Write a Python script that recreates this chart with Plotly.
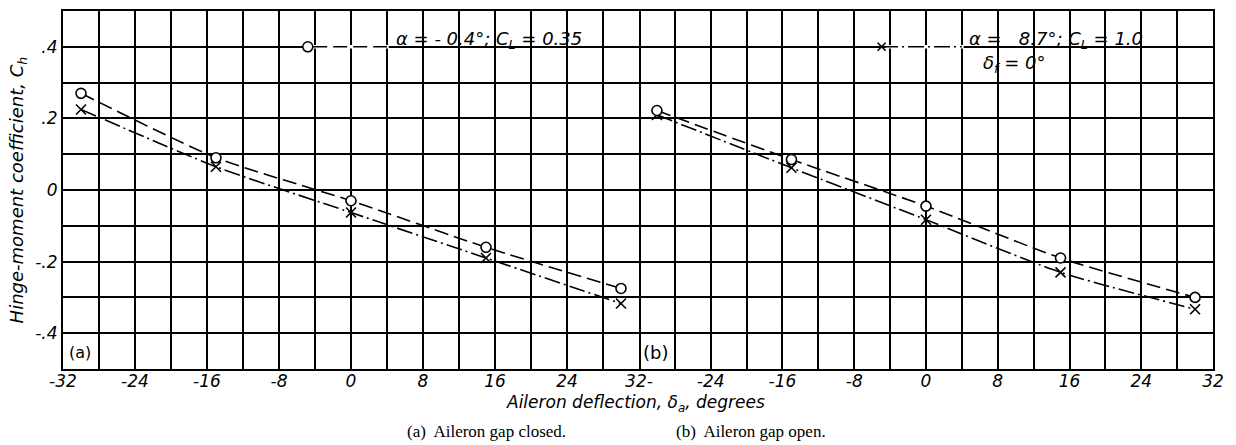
import plotly.graph_objects as go

# ---------------- data ----------------
deflection = [-30, -15, 0, 15, 30]
# (a) Aileron gap closed
a_circle = [0.27, 0.09, -0.03, -0.16, -0.275]   # alpha = -0.4 deg, CL = 0.35
a_cross = [0.225, 0.065, -0.063, -0.19, -0.317]  # alpha = 8.7 deg, CL = 1.0
# (b) Aileron gap open
b_circle = [0.222, 0.085, -0.045, -0.19, -0.30]
b_cross = [0.21, 0.062, -0.083, -0.23, -0.333]

x_tickvals_a = [-32, -24, -16, -8, 0, 8, 16, 24, 32]
x_ticktext_a = ["-32", "-24", "-16", "-8", "0", "8", "16", "24", "32-"]
x_tickvals_b = [-24, -16, -8, 0, 8, 16, 24, 32]
x_ticktext_b = ["-24", "-16", "-8", "0", "8", "16", "24", "32"]
y_tickvals = [-0.4, -0.2, 0, 0.2, 0.4]
y_ticktext = ["-.4", "-.2", "0", ".2", ".4"]

legend_a = "α = - 0.4°; C<sub>L</sub> = 0.35"
legend_b = "α =   8.7°; C<sub>L</sub> = 1.0"
legend_b2 = "δ<sub>f</sub> = 0°"
y_title = "Hinge-moment coefficient, C<sub>h</sub>"
x_title = "Aileron deflection, δ<sub>a</sub>, degrees"
caption_a = "(a)  Aileron gap closed."
caption_b = "(b)  Aileron gap open."

# ---------------- styles ----------------
ital = dict(family="DejaVu Sans", size=17, color="black", style="italic")
big_ital = dict(family="DejaVu Sans", size=18, color="black", style="italic")
DASH_C = "14px,6px"
DASH_X = "16px,4px,2px,4px"

fig = go.Figure()

def add_series(xs, ys, xa, ya, symbol, dash):
    fig.add_trace(go.Scatter(
        x=xs, y=ys, xaxis=xa, yaxis=ya, mode="lines+markers",
        line=dict(color="black", width=1.6, dash=dash, shape="spline", smoothing=0.6),
        marker=dict(symbol=symbol, size=10, color="white" if symbol == "circle" else "black",
                    line=dict(color="black", width=1.6)),
        showlegend=False, hoverinfo="x+y"))

add_series(deflection, a_cross, "x", "y", "x-thin", DASH_X)
add_series(deflection, a_circle, "x", "y", "circle", DASH_C)
add_series(deflection, b_cross, "x2", "y2", "x-thin", DASH_X)
add_series(deflection, b_circle, "x2", "y2", "circle", DASH_C)

split = 581 / 1160
grid = dict(showgrid=True, gridcolor="black", gridwidth=2)
axis_common = dict(
    zeroline=False, showline=True, linecolor="black", linewidth=2,
    ticks="", tickfont=ital, **grid,
)
fig.update_layout(
    width=1236, height=445, autosize=False,
    margin=dict(l=63, r=13, t=9, b=76),
    paper_bgcolor="white", plot_bgcolor="white",
    xaxis=dict(domain=[0, split], range=[-32, 32], tickvals=x_tickvals_a, ticktext=x_ticktext_a,
               minor=dict(dtick=4, tick0=0, **grid), anchor="y", mirror=True,
               ticklabelstandoff=-4, **axis_common),
    yaxis=dict(domain=[0, 1], range=[-0.5, 0.5], tickvals=y_tickvals, ticktext=y_ticktext,
               minor=dict(dtick=0.1, tick0=0, **grid), anchor="x", mirror=True,
               ticklabelstandoff=0, **axis_common),
    xaxis2=dict(domain=[split, 1], range=[-32, 32], tickvals=x_tickvals_b, ticktext=x_ticktext_b,
                minor=dict(dtick=4, tick0=0, **grid), anchor="y2", mirror=True,
                ticklabelstandoff=-4, **axis_common),
    yaxis2=dict(domain=[0, 1], range=[-0.5, 0.5], tickvals=y_tickvals, showticklabels=False,
                minor=dict(dtick=0.1, tick0=0, **grid), anchor="x2", side="right", mirror=False,
                **axis_common),
)

shapes = []
# legend (a): hide gridline, dashed sample line, circle key
shapes.append(dict(type="rect", xref="x", yref="y", x0=-4.8, x1=4.2, y0=0.395, y1=0.405,
                   fillcolor="white", line=dict(width=0), layer="above"))
shapes.append(dict(type="line", xref="x", yref="y", x0=-4.2, x1=4.0, y0=0.4, y1=0.4,
                   line=dict(color="black", width=1.6, dash=DASH_C), layer="above"))
shapes.append(dict(type="circle", xref="x", yref="y", xsizemode="pixel", ysizemode="pixel",
                   xanchor=-4.8, yanchor=0.4, x0=-5, x1=5, y0=-5, y1=5,
                   fillcolor="white", line=dict(color="black", width=1.6), layer="above"))
# legend (b): hide gridline, dash-dot sample line, cross key
shapes.append(dict(type="rect", xref="x2", yref="y2", x0=-4.5, x1=4.2, y0=0.395, y1=0.405,
                   fillcolor="white", line=dict(width=0), layer="above"))
shapes.append(dict(type="line", xref="x2", yref="y2", x0=-4.9, x1=4.0, y0=0.4, y1=0.4,
                   line=dict(color="black", width=1.6, dash=DASH_X), layer="above"))
for sgn in (-1, 1):
    shapes.append(dict(type="line", xref="x2", yref="y2", xsizemode="pixel", ysizemode="pixel",
                       xanchor=-4.95, yanchor=0.4, x0=-4, x1=4, y0=-4 * sgn, y1=4 * sgn,
                       line=dict(color="black", width=1.6), layer="above"))
fig.update_layout(shapes=shapes)

ann = []
ann.append(dict(text=legend_a, xref="x", yref="y", x=4.8, y=0.42, xanchor="left", yanchor="middle",
                showarrow=False, font=big_ital))
ann.append(dict(text=legend_b, xref="x2", yref="y2", x=4.6, y=0.42, xanchor="left", yanchor="middle",
                showarrow=False, font=big_ital))
ann.append(dict(text=legend_b2, xref="x2", yref="y2", x=9.8, y=0.352, xanchor="center", yanchor="middle",
                showarrow=False, font=big_ital))
ann.append(dict(text="(a)", xref="x", yref="y", x=-30.1, y=-0.455, xanchor="center", yanchor="middle",
                showarrow=False, font=dict(family="DejaVu Sans", size=16, color="black")))
ann.append(dict(text="(b)", xref="x2", yref="y2", x=-30.2, y=-0.455, xanchor="center", yanchor="middle",
                showarrow=False, font=dict(family="DejaVu Sans", size=18, color="black")))
ann.append(dict(text=y_title, xref="paper", yref="paper", x=(18 - 63) / 1160, y=(369 - 189) / 360,
                xanchor="center", yanchor="middle", textangle=-90, showarrow=False, font=big_ital))
ann.append(dict(text=x_title, xref="paper", yref="paper", x=(640 - 63) / 1160, y=(369 - 404) / 360,
                xanchor="center", yanchor="middle", showarrow=False, font=ital))
cap_font = dict(family="Liberation Serif", size=17, color="black")
ann.append(dict(text=caption_a, xref="paper", yref="paper", x=(408 - 63) / 1160, y=(369 - 432) / 360,
                xanchor="left", yanchor="middle", showarrow=False, font=cap_font))
ann.append(dict(text=caption_b, xref="paper", yref="paper", x=(679 - 63) / 1160, y=(369 - 432) / 360,
                xanchor="left", yanchor="middle", showarrow=False, font=cap_font))
fig.update_layout(annotations=ann)

fig.write_html("out.html", config={"displayModeBar": False},
               post_script="document.body.style.margin='0';")
